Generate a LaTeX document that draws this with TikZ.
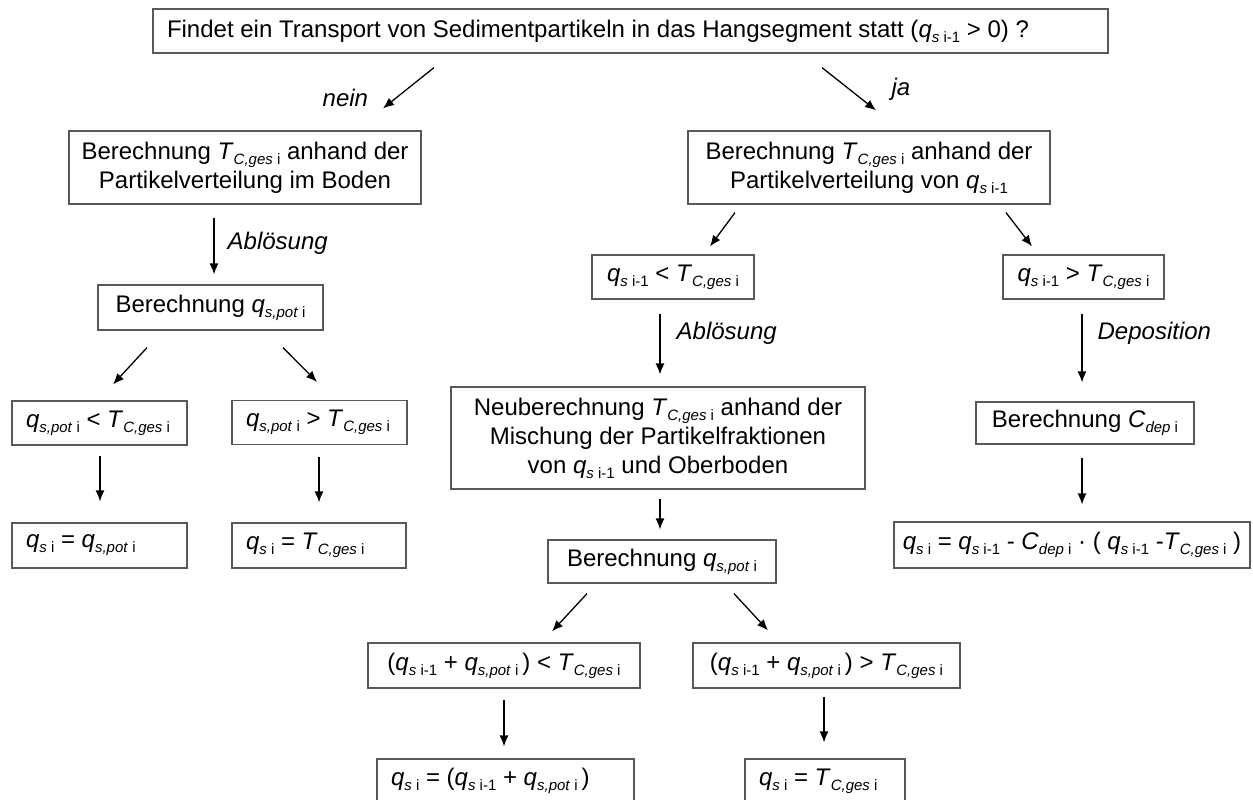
\documentclass[tikz,border=0pt]{standalone}
\usepackage{fontspec}
\setmainfont{Liberation Sans}
\usetikzlibrary{arrows.meta}
\usetikzlibrary{positioning}

\newcommand{\lowidx}[1]{\raisebox{-5pt}{\fontsize{15}{15}\selectfont #1}}
\newcommand{\qprev}{\textit{q}\lowidx{\textit{s} i-1}}
\newcommand{\qcur}{\textit{q}\lowidx{\textit{s} i}}
\newcommand{\qpot}{\textit{q}\lowidx{\textit{s,pot} i}}
\newcommand{\tcap}{\textit{T}\lowidx{\textit{C,ges} i}}
\newcommand{\cdep}{\textit{C}\lowidx{\textit{dep} i}}
\newcommand{\lft}[2]{\makebox[#1][l]{#2}}

\begin{document}
\begin{tikzpicture}[x=1pt, y=-1pt, font=\fontsize{24}{29}\selectfont,
    box/.style={draw=black!65, line width=1.2pt, inner sep=0pt, align=center},
    lbox/.style={box, inner xsep=14pt},
    arr/.style={-{Latex[length=11pt,width=9pt]}, line width=1.3pt},
    lbl/.style={font=\fontsize{24}{29}\selectfont\itshape, inner sep=0pt}]
          \useasboundingbox (0,0) rectangle (1253,800);

          \node[lbox, minimum height=44pt] (frage) at (630.5,31) {\lft{927pt}{Findet ein Transport von Sedimentpartikeln in das Hangsegment statt (\qprev{} > 0) ?}};

          % nein
          \node[box, minimum width=352pt, minimum height=73pt] (nboden) at (245,167.5) {Berechnung \tcap{} anhand der\\Partikelverteilung im Boden};
          \node[box, minimum width=225pt, minimum height=45pt] (npot) at (210.5,307.5) {Berechnung \qpot};
          \node[lbox, minimum height=44pt] (nklein) at (99.5,423) {\lft{147pt}{\qpot{} < \tcap}};
          \node[lbox, minimum height=44pt] (ngross) at (319.5,422.5) {\lft{147pt}{\qpot{} > \tcap}};
          \node[lbox, minimum height=45pt] (nerg1) at (99.5,545.5) {\lft{147pt}{\qcur{} = \qpot}};
          \node[lbox, minimum height=45pt] (nerg2) at (319,545.5) {\lft{146pt}{\qcur{} = \tcap}};

          % ja
          \node[box, minimum width=362pt, minimum height=73pt] (jvert) at (869,167.5) {Berechnung \tcap{} anhand der\\Partikelverteilung von \qprev};
          \node[box, minimum width=162pt, minimum height=44pt] (jklein) at (673,277) {\qprev{} < \tcap};
          \node[box, minimum width=161pt, minimum height=44pt] (jgross) at (1083.5,277) {\qprev{} > \tcap};
          \node[box, minimum width=414pt, minimum height=102pt] (jneu) at (658,438) {Neuberechnung \tcap{} anhand der\\Mischung der Partikelfraktionen\\von \qprev{} und Oberboden};
          \node[box, minimum width=218pt, minimum height=42pt] (jcdep) at (1085,423) {Berechnung \cdep};
          \node[box, minimum width=356pt, minimum height=46pt] (jdep) at (1072,545) {\qcur{} = \qprev{} - \cdep{} · ( \qprev{} -\tcap{} )};
          \node[box, minimum width=228pt, minimum height=43pt] (jpot) at (662,561.5) {Berechnung \qpot};
          \node[box, minimum width=272pt, minimum height=45pt] (jklein2) at (504,665.5) {(\qprev{} + \qpot\,) < \tcap};
          \node[box, minimum width=267pt, minimum height=45pt] (jgross2) at (826.5,665.5) {(\qprev{} + \qpot\,) > \tcap};
          \node[lbox, minimum height=44pt] (jerg1) at (505.5,781) {\lft{229pt}{\qcur{} = (\qprev{} + \qpot\,)}};
          \node[lbox, minimum height=44pt] (jerg2) at (825,781) {\lft{132pt}{\qcur{} = \tcap}};

          \draw[arr] ([shift={(-196.5,14)}]frage.south) -- ([shift={(138,-22)}]nboden.north) node[lbl, pos=0.75, left=27pt] {nein};
          \draw[arr] ([shift={(191.5,14)}]frage.south) -- ([shift={(7,-20)}]jvert.north) node[lbl, midway, right=42pt] {ja};

          \draw[arr] ([shift={(-31,13)}]nboden.south) -- ([shift={(3.5,-10)}]npot.north) node[lbl, pos=0.45, right=13pt] {Ablösung};
          \draw[arr] ([shift={(-63.5,17)}]npot.south) -- ([shift={(13.5,-16)}]nklein.north);
          \draw[arr] ([shift={(72.5,17)}]npot.south) -- ([shift={(-2.5,-18)}]ngross.north);
          \draw[arr] ([shift={(0.5,10)}]nklein.south) -- ([shift={(0.5,-21)}]nerg1.north);
          \draw[arr] ([shift={(-0.5,12)}]ngross.south) -- ([shift={(0,-20)}]nerg2.north);

          \draw[arr] ([shift={(-134,8)}]jvert.south) -- ([shift={(37,-8)}]jklein.north);
          \draw[arr] ([shift={(137,8)}]jvert.south) -- ([shift={(-51.5,-8)}]jgross.north);
          \draw[arr] ([shift={(-13,14)}]jklein.south) -- ([shift={(2,-12)}]jneu.north) node[lbl, pos=0.33, right=16pt] {Ablösung};
          \draw[arr] ([shift={(-1.5,14)}]jgross.south) -- ([shift={(-3,-19)}]jcdep.north) node[lbl, pos=0.29, right=15pt] {Deposition};
          \draw[arr] ([shift={(-3,13)}]jcdep.south) -- ([shift={(10,-17)}]jdep.north);
          \draw[arr] ([shift={(2,9)}]jneu.south) -- ([shift={(-2,-10)}]jpot.north);
          \draw[arr] ([shift={(-75,10)}]jpot.south) -- ([shift={(48,-11)}]jklein2.north);
          \draw[arr] ([shift={(72,10)}]jpot.south) -- ([shift={(-58.5,-12)}]jgross2.north);
          \draw[arr] ([shift={(0,11)}]jklein2.south) -- ([shift={(-1.5,-12)}]jerg1.north);
          \draw[arr] ([shift={(-2.5,8)}]jgross2.south) -- ([shift={(-1,-16)}]jerg2.north);
        \end{tikzpicture}
\end{document}
